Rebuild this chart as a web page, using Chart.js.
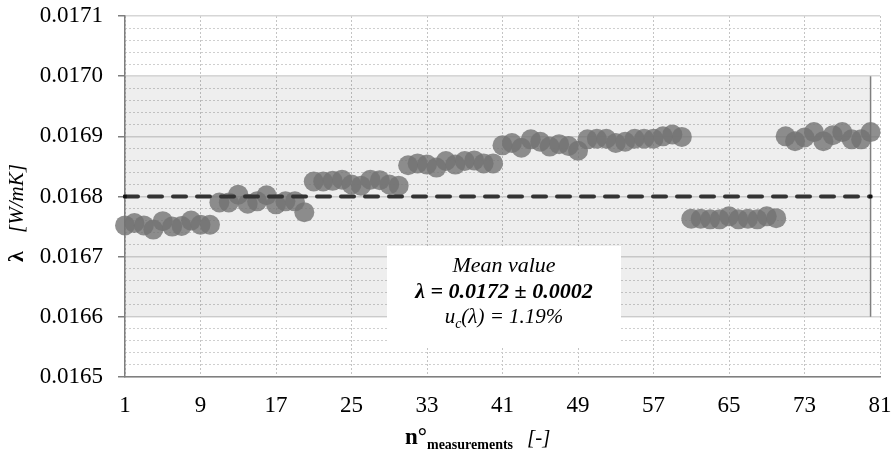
<!DOCTYPE html>
<html>
<head>
<meta charset="utf-8">
<script src="https://cdn.jsdelivr.net/npm/chart.js@4.4.0/dist/chart.umd.min.js"></script>
<style>
    html, body { margin: 0; padding: 0; background: #fff; }
</style>
</head>
<body>
<canvas id="chart" width="891" height="457"></canvas>
<script>
// thermal conductivity of each measurement (W/mK), measurement n° = index + 1
var lambdaValues = [
    0.016752, 0.016756, 0.016752, 0.016745, 0.016759, 0.016750, 0.016751, 0.016760, 0.016753, 0.016753,
    0.016790, 0.016790, 0.016803, 0.016788, 0.016792, 0.016802, 0.016787, 0.016792, 0.016792, 0.016774,
    0.016825, 0.016825, 0.016826, 0.016828, 0.016820, 0.016818, 0.016828, 0.016827, 0.016820, 0.016818,
    0.016852, 0.016855, 0.016853, 0.016848, 0.016859, 0.016853, 0.016859, 0.016860, 0.016855, 0.016855,
    0.016885, 0.016889, 0.016881, 0.016895, 0.016891, 0.016883, 0.016887, 0.016884, 0.016876, 0.016895,
    0.016896, 0.016896, 0.016889, 0.016891, 0.016896, 0.016896, 0.016896, 0.016900, 0.016903, 0.016899,
    0.016763, 0.016763, 0.016762, 0.016762, 0.016767, 0.016762, 0.016763, 0.016762, 0.016767, 0.016764,
    0.016900, 0.016892, 0.016898, 0.016907, 0.016892, 0.016902, 0.016907, 0.016895, 0.016895, 0.016907
];
var meanLine = 0.0168;
var bandTop = 0.0170;
var bandBottom = 0.0166;
var firstMeasure = 1;
var lastMeasure = 80;

var xTicks = [1, 9, 17, 25, 33, 41, 49, 57, 65, 73, 81];
var yTicks = [0.0165, 0.0166, 0.0167, 0.0168, 0.0169, 0.0170, 0.0171];
var yMinorStep = 0.00002;

var serif = "'Liberation Serif', 'Times New Roman', serif";

var points = lambdaValues.map(function(v, i){ return {x: i + 1, y: v} });

var minorTicks = [];
for (var k = 0; k < yTicks.length - 1; k++) {
    for (var m = 1; m < 5; m++) {
        minorTicks.push(yTicks[k] + m * yMinorStep);
    }
}

// axis titles and the mean value box
var textPlugin = {
    id: 'texts',
    afterDraw: function(chart){
        var ctx = chart.ctx;
        ctx.save();

        // mean value box
        ctx.fillStyle = '#fff';
        ctx.fillRect(387, 246, 234, 100);

        ctx.fillStyle = '#000';
        ctx.textBaseline = 'alphabetic';
        ctx.textAlign = 'center';
        ctx.font = 'italic 22px ' + serif;
        ctx.fillText('Mean value', 504, 272);
        ctx.font = 'italic bold 22px ' + serif;
        ctx.fillText('\u03bb = 0.0172 \u00b1 0.0002', 504, 298);

        ctx.textAlign = 'left';
        var big = 'italic 21px ' + serif;
        var small = 'italic 14px ' + serif;
        ctx.font = big;
        var w1 = ctx.measureText('u').width;
        var w3 = ctx.measureText('(\u03bb) = 1.19%').width;
        ctx.font = small;
        var w2 = ctx.measureText('c').width;
        var sx = 504 - (w1 + w2 + w3) / 2;
        ctx.font = big;
        ctx.fillText('u', sx, 323);
        ctx.font = small;
        ctx.fillText('c', sx + w1, 328);
        ctx.font = big;
        ctx.fillText('(\u03bb) = 1.19%', sx + w1 + w2, 323);

        // x title
        ctx.font = 'bold 23px ' + serif;
        ctx.fillText('n\u00b0', 405, 444);
        var nw = ctx.measureText('n\u00b0').width;
        ctx.font = 'bold 14px ' + serif;
        ctx.fillText('measurements', 405 + nw, 449);
        ctx.font = 'italic 21px ' + serif;
        ctx.fillText('[-]', 527, 444);

        // y title
        ctx.translate(23, 262);
        ctx.rotate(-Math.PI / 2);
        ctx.font = 'bold 22px ' + serif;
        ctx.fillText('\u03bb', 0, 0);
        ctx.font = 'italic 21px ' + serif;
        ctx.fillText('[W/mK]', 29, 0);

        ctx.restore();
    }
};

var ctx = document.getElementById('chart');
var myChart = new Chart(ctx, {
    type: 'scatter',
    data: {
        datasets: [{
            label: 'band',
            type: 'line',
            data: [{x: firstMeasure, y: bandTop}, {x: lastMeasure, y: bandTop}],
            fill: {value: bandBottom},
            backgroundColor: 'rgba(0,0,0,0.065)',
            borderWidth: 0,
            pointRadius: 0,
            order: 4
        }, {
            label: 'band edge',
            type: 'line',
            data: [{x: lastMeasure, y: bandTop}, {x: lastMeasure, y: bandBottom}],
            borderColor: '#7f7f7f',
            borderWidth: 1.5,
            pointRadius: 0,
            fill: false,
            order: 3
        }, {
            label: 'lambda',
            data: points,
            backgroundColor: 'rgba(115,115,115,0.8)',
            borderWidth: 0,
            pointRadius: 10,
            pointHoverRadius: 10,
            clip: false,
            order: 2
        }, {
            label: 'mean',
            type: 'line',
            data: [{x: firstMeasure, y: meanLine}, {x: lastMeasure, y: meanLine}],
            borderColor: '#333',
            borderWidth: 4,
            borderDash: [13, 11],
            borderCapStyle: 'round',
            pointStyle: 'rect',
            pointRadius: 2.5,
            pointBackgroundColor: '#111',
            pointBorderWidth: 0,
            fill: false,
            clip: false,
            order: 1
        }]
    },
    options: {
        responsive: false,
        animation: false,
        events: [],
        layout: {padding: {top: 16, right: 11, left: 0, bottom: 0}},
        plugins: {
            legend: {display: false},
            tooltip: {enabled: false},
            title: {display: false}
        },
        scales: {
            x: {
                type: 'linear',
                min: 1,
                max: 81,
                afterFit: function(s){
                    s.height = 80;
                    s.paddingLeft = 0;
                    s.paddingRight = 0;
                },
                afterBuildTicks: function(s){ s.ticks = xTicks.map(function(v){ return {value: v} }) },
                ticks: {
                    autoSkip: false,
                    maxRotation: 0,
                    padding: 15,
                    color: '#000',
                    font: {family: serif, size: 23}
                },
                grid: {color: '#c4c4c4', lineWidth: 1, drawTicks: false},
                border: {color: '#7f7f7f', width: 1.5, dash: [2, 2]}
            },
            yMinor: {
                type: 'linear',
                position: 'left',
                min: 0.0165,
                max: 0.0171,
                afterFit: function(s){
                    s.width = 0;
                    s.paddingTop = 0;
                    s.paddingBottom = 0;
                },
                afterBuildTicks: function(s){ s.ticks = minorTicks.map(function(v){ return {value: v} }) },
                ticks: {display: false},
                grid: {color: '#cfcfcf', lineWidth: 1, drawTicks: false},
                border: {display: false, dash: [2, 2]}
            },
            y: {
                type: 'linear',
                position: 'left',
                min: 0.0165,
                max: 0.0171,
                afterFit: function(s){
                    s.width = 125;
                    s.paddingTop = 0;
                    s.paddingBottom = 0;
                },
                afterBuildTicks: function(s){ s.ticks = yTicks.map(function(v){ return {value: v} }) },
                ticks: {
                    autoSkip: false,
                    padding: 15,
                    color: '#000',
                    font: {family: serif, size: 23},
                    callback: function(v){ return v.toFixed(4) }
                },
                grid: {color: '#d6d6d6', lineWidth: 1.5, tickLength: 7, tickColor: '#7f7f7f', tickWidth: 1.5},
                border: {color: '#7f7f7f', width: 1.5}
            }
        }
    },
    plugins: [textPlugin]
});
</script>
</body>
</html>
